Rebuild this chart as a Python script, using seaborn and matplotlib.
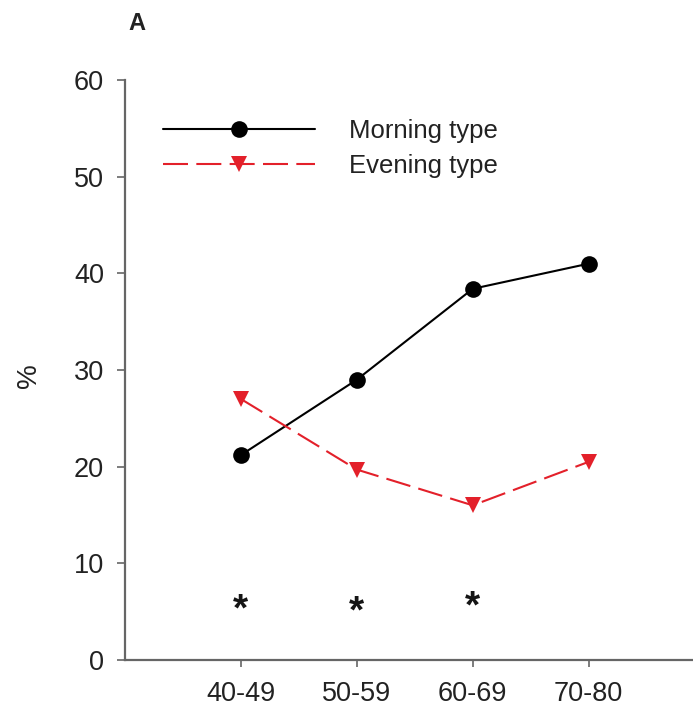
import matplotlib
matplotlib.use("Agg")
import matplotlib.pyplot as plt
import seaborn as sns
import pandas as pd

age_groups = ["40-49", "50-59", "60-69", "70-80"]
morning = [21.2, 29.0, 38.4, 41.0]
evening = [27.0, 19.7, 16.0, 20.5]
star_groups = ["40-49", "50-59", "60-69"]
star_y = [5.5, 5.3, 5.8]
series_names = ["Morning type", "Evening type"]
y_ticks = [0, 10, 20, 30, 40, 50, 60]

sns.set_style("ticks")
plt.rcParams["font.family"] = ["Liberation Sans", "DejaVu Sans"]

df = pd.DataFrame({
    "age": age_groups * 2,
    "pct": morning + evening,
    "type": [series_names[0]] * len(age_groups) + [series_names[1]] * len(age_groups),
})

fig = plt.figure(figsize=(6.93, 7.08), dpi=100)
ax = fig.add_axes([125 / 693, 48 / 708, 1 - 125 / 693, 580 / 708])

red = "#e3202a"
sns.lineplot(
    data=df, x="age", y="pct", hue="type", style="type",
    palette={series_names[0]: "black", series_names[1]: red},
    markers={series_names[0]: "o", series_names[1]: "v"},
    dashes={series_names[0]: "", series_names[1]: (12, 4)},
    linewidth=1.5, markersize=12, markeredgewidth=0, ax=ax, legend=True,
    sort=False,
)
for line in ax.get_lines():
    if line.get_marker() == "v":
        line.set_markersize(11)

for g, yv in zip(star_groups, star_y):
    ax.text(age_groups.index(g), yv, "*", ha="center", va="center_baseline",
            fontsize=28, fontweight="bold", color="#151515")

ax.set_xlim(-1.0, 3.9)
ax.set_ylim(0, 60)
ax.set_yticks(y_ticks)
ax.set_xlabel("")
ax.set_ylabel("%", fontsize=20, color="#222222")
ax.yaxis.set_label_coords(-0.146, 0.49)

for s in ["top", "right"]:
    ax.spines[s].set_visible(False)
for s in ["left", "bottom"]:
    ax.spines[s].set_color("#666666")
    ax.spines[s].set_linewidth(1.6)
ax.tick_params(axis="both", colors="#666666", labelcolor="#222222",
               labelsize=19.5, width=1.2)
ax.tick_params(axis="y", length=6, pad=9)
ax.tick_params(axis="x", length=5, pad=10)

handles, labels = ax.get_legend_handles_labels()
leg = ax.legend(handles, labels, loc="upper left", bbox_to_anchor=(0.067, 0.933),
                frameon=False, fontsize=18.5, handlelength=5.9, handletextpad=1.35,
                labelspacing=0.45, borderpad=0, borderaxespad=0)
for t in leg.get_texts():
    t.set_color("#222222")

fig.text(137 / 693, 1 - 24 / 708, "A", fontsize=17, fontweight="bold",
         ha="center", va="center", color="#222222")

fig.savefig("out.png", dpi=100)
